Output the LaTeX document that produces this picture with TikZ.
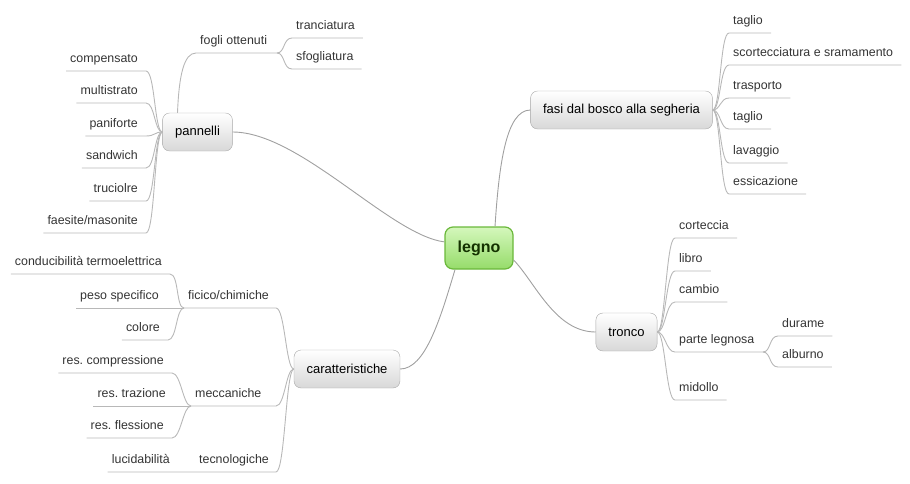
\documentclass[tikz,border=0pt]{standalone}
\usepackage{fontspec}
\setmainfont{Liberation Sans}
\frenchspacing
\definecolor{boxborder}{HTML}{A8A8A8}
\definecolor{boxbottom}{HTML}{D8D8D8}
\definecolor{legnoborder}{HTML}{6AB83A}
\definecolor{legnotop}{HTML}{D4F7BC}
\definecolor{legnobottom}{HTML}{96DC6A}
\definecolor{legnotext}{HTML}{143200}
\definecolor{leaftext}{HTML}{333333}
\definecolor{edgegray}{HTML}{A0A0A0}
\definecolor{twiggray}{HTML}{B8B8B8}
\begin{document}
\begin{tikzpicture}[x=1pt,y=-1pt,
  mainbox/.style={rounded corners=7pt, draw=boxborder, top color=white, bottom color=boxbottom,
    inner xsep=12.5pt, minimum height=38pt, font=\fontsize{13}{15}\selectfont, text=black},
  centerbox/.style={rounded corners=8pt, draw=legnoborder, line width=1.2pt, top color=legnotop,
    bottom color=legnobottom, minimum width=68pt, minimum height=42pt,
    font=\fontsize{16}{18}\selectfont\bfseries, text=legnotext},
  leaf/.style={inner xsep=4pt, inner ysep=0pt, text height=9pt, text depth=8pt,
    font=\fontsize{12.4}{14}\selectfont, text=leaftext},
  edge/.style={draw=edgegray, line width=0.9pt},
  twig/.style={draw=twiggray, line width=0.9pt},
  rcurve/.style={to path={.. controls +(8,0) and +(-9,0) .. (\tikztotarget)}},
  lcurve/.style={to path={.. controls +(-8,0) and +(9,0) .. (\tikztotarget)}},
]
\useasboundingbox (0,0) rectangle (910,483);

% main nodes
\node[centerbox] (legno) at (479,248) {legno};
\node[mainbox] (pannelli) at (197.5,132) {pannelli};
\node[mainbox] (fasi) at (621.5,110) {fasi dal bosco alla segheria};
\node[mainbox] (tronco) at (626.5,332) {tronco};
\node[mainbox] (caratt) at (347,369) {caratteristiche};

% main connectors
\draw[edge] (legno.170) .. controls (390,235) and (300,132) .. (pannelli.east);
\draw[edge] ([xshift=16pt]legno.north) .. controls (499,165) and (506,110) .. (fasi.west);
\draw[edge] ([yshift=-12pt]legno.east) .. controls (535,282) and (555,332) .. (tronco.west);
\draw[edge] ([xshift=-24pt]legno.south) .. controls (440,320) and (425,369) .. (caratt.east);

% fasi leaves
\node[leaf,anchor=south west] (f1) at (729,33) {taglio};
\node[leaf,anchor=south west] (f2) at (729,65) {scortecciatura e sramamento};
\node[leaf,anchor=south west] (f3) at (729,98) {trasporto};
\node[leaf,anchor=south west] (f4) at (729,129) {taglio};
\node[leaf,anchor=south west] (f5) at (729,163) {lavaggio};
\node[leaf,anchor=south west] (f6) at (729,194) {essicazione};
\foreach \n in {f1,f2,f3,f4,f5,f6}
  \draw[twig] (fasi.east) to[rcurve] (\n.south west) -- ([xshift=4pt]\n.south east);

% tronco leaves
\node[leaf,anchor=south west] (t1) at (675,238) {corteccia};
\node[leaf,anchor=south west] (t2) at (675,271) {libro};
\node[leaf,anchor=south west] (t3) at (675,302) {cambio};
\node[leaf,anchor=south west] (t4) at (675,352) {parte legnosa};
\node[leaf,anchor=south west] (t5) at (675,400) {midollo};
\coordinate (pj) at (763,352);
\foreach \n in {t1,t2,t3,t5}
  \draw[twig] (tronco.east) to[rcurve] (\n.south west) -- ([xshift=4pt]\n.south east);
\draw[twig] (tronco.east) to[rcurve] (t4.south west) -- (pj);
\node[leaf,anchor=south west] (d1) at (778,336) {durame};
\node[leaf,anchor=south west] (d2) at (778,367) {alburno};
\foreach \n in {d1,d2}
  \draw[twig] (pj) to[rcurve] (\n.south west) -- ([xshift=4pt]\n.south east);

% pannelli leaves
\node[leaf,anchor=south east] (p1) at (142,71) {compensato};
\node[leaf,anchor=south east] (p2) at (142,103) {multistrato};
\node[leaf,anchor=south east] (p3) at (142,136) {paniforte};
\node[leaf,anchor=south east] (p4) at (142,168) {sandwich};
\node[leaf,anchor=south east] (p5) at (142,201) {truciolre};
\node[leaf,anchor=south east] (p6) at (142,233) {faesite/masonite};
\foreach \n in {p1,p2,p3,p4,p5,p6}
  \draw[twig] (pannelli.west) to[lcurve] ([xshift=4pt]\n.south east) -- (\n.south west);

\node[leaf,anchor=south west] (fo) at (196,53) {fogli ottenuti};
\coordinate (fj) at (277,53);
\draw[twig] ([xshift=-20pt]pannelli.north) .. controls (179,75) and (184,53) .. (fo.south west) -- (fj);
\node[leaf,anchor=south west] (tr) at (292,38) {tranciatura};
\node[leaf,anchor=south west] (sf) at (292,69) {sfogliatura};
\foreach \n in {tr,sf}
  \draw[twig] (fj) to[rcurve] (\n.south west) -- ([xshift=4pt]\n.south east);

% caratteristiche leaves
\node[leaf,anchor=south west] (c1) at (184,308) {ficico/chimiche};
\node[leaf,anchor=south west] (c2) at (191,406) {meccaniche};
\node[leaf,anchor=south west] (c3) at (195,472) {tecnologiche};
\coordinate (cj1) at (276,308);
\coordinate (cj2) at (276,406);
\coordinate (cj3) at (276,472);
\node[leaf,anchor=south east] (lu) at (174,472) {lucidabilità};
\draw[twig] (caratt.west) to[lcurve] (cj1) -- (c1.south west);
\draw[twig] (caratt.west) to[lcurve] (cj2) -- (c2.south west);
\draw[twig] (caratt.west) to[lcurve] (cj3) -- (lu.south west);

\node[leaf,anchor=south east] (co) at (166,274) {conducibilità termoelettrica};
\node[leaf,anchor=south east] (ps) at (163,308) {peso specifico};
\node[leaf,anchor=south east] (cl) at (164,340) {colore};
\draw[twig] (c1.south west) to[lcurve] ([xshift=4pt]co.south east) -- (co.south west);
\draw[twig] (c1.south west) -- (ps.south west);
\draw[twig] (c1.south west) to[lcurve] ([xshift=4pt]cl.south east) -- (cl.south west);

\node[leaf,anchor=south east] (rc) at (168,373) {res. compressione};
\node[leaf,anchor=south east] (rt) at (170,406) {res. trazione};
\node[leaf,anchor=south east] (rf) at (168,438) {res. flessione};
\draw[twig] (c2.south west) to[lcurve] ([xshift=4pt]rc.south east) -- (rc.south west);
\draw[twig] (c2.south west) -- (rt.south west);
\draw[twig] (c2.south west) to[lcurve] ([xshift=4pt]rf.south east) -- (rf.south west);
\end{tikzpicture}
\end{document}
